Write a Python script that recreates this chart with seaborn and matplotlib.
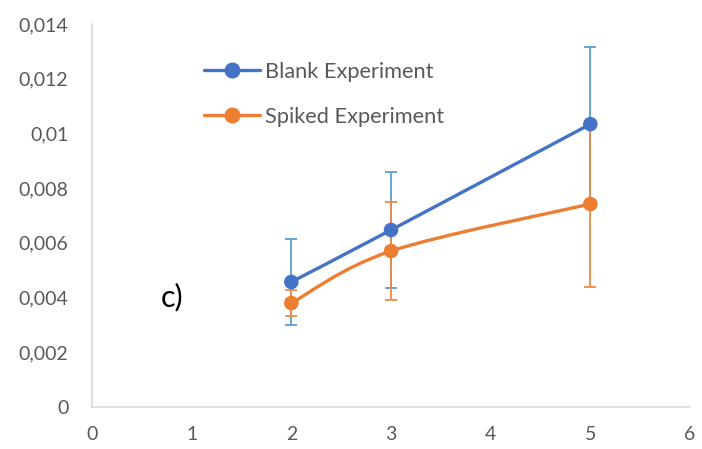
import numpy as np
import pandas as pd
import seaborn as sns
import matplotlib.pyplot as plt
from matplotlib.path import Path
from matplotlib.patches import PathPatch
from matplotlib.lines import Line2D
from matplotlib.ticker import FuncFormatter, MultipleLocator

x_values = [2, 3, 5]
blank_values = [0.00457, 0.00647, 0.01034]
blank_errors = [0.00158, 0.00213, 0.00283]
spiked_values = [0.00380, 0.00570, 0.00742]
spiked_errors = [0.00048, 0.00180, 0.00303]
series_names = ["Blank Experiment", "Spiked Experiment"]

blue = "#4472C4"
orange = "#ED7D31"
blue_err = "#5B9BD5"
orange_err = "#F08A45"

sns.set_theme(style="white")
plt.rcParams['font.family'] = ['Lato', 'DejaVu Sans']

df = pd.DataFrame({
    "x": x_values + x_values,
    "y": blank_values + spiked_values,
    "series": [series_names[0]] * 3 + [series_names[1]] * 3,
})

fig = plt.figure(figsize=(7.02, 4.49), dpi=100)
ax = fig.add_axes([92 / 702, 42 / 449, 598 / 702, 383 / 449])


def smooth_path(xs, ys, t=1 / 6):
    pts = np.column_stack([xs, ys]).astype(float)
    n = len(pts)
    verts = [pts[0]]
    codes = [Path.MOVETO]
    for i in range(n - 1):
        p0 = pts[max(i - 1, 0)]
        p1 = pts[i]
        p2 = pts[i + 1]
        p3 = pts[min(i + 2, n - 1)]
        c1 = p1 + (p2 - p0) * t
        c2 = p2 - (p3 - p1) * t
        verts += [c1, c2, p2]
        codes += [Path.CURVE4] * 3
    return Path(verts, codes)


# error bars
ax.errorbar(x_values, blank_values, yerr=blank_errors, fmt="none",
            ecolor=blue_err, elinewidth=1.3, capsize=4.5, capthick=1.3, zorder=1)
ax.errorbar(x_values, spiked_values, yerr=spiked_errors, fmt="none",
            ecolor=orange_err, elinewidth=1.3, capsize=4.5, capthick=1.3, zorder=1)

# smoothed lines
for vals, col in [(blank_values, blue), (spiked_values, orange)]:
    ax.add_patch(PathPatch(smooth_path(x_values, vals), facecolor="none",
                           edgecolor=col, lw=2.4, capstyle="round", zorder=2))

# markers
sns.scatterplot(data=df, x="x", y="y", hue="series",
                palette={series_names[0]: blue, series_names[1]: orange},
                s=110, edgecolor="none", legend=False, ax=ax, zorder=3)

ax.set_xlim(0, 6)
ax.set_ylim(0, 0.014)
ax.xaxis.set_major_locator(MultipleLocator(1))
ax.yaxis.set_major_locator(MultipleLocator(0.002))
ax.yaxis.set_major_formatter(FuncFormatter(lambda v, p: f"{v:g}".replace(".", ",")))
ax.set_xlabel("")
ax.set_ylabel("")
ax.tick_params(length=0, colors="#595959", labelsize=14)
ax.tick_params(axis="y", pad=17)
ax.tick_params(axis="x", pad=14)
for s in ["top", "right"]:
    ax.spines[s].set_visible(False)
for s in ["left", "bottom"]:
    ax.spines[s].set_color("#D9D9D9")
    ax.spines[s].set_linewidth(1.2)

ax.text(0.69, 0.0040, "c)", fontsize=22, color="black", va="center", ha="left")

handles = [Line2D([], [], color=blue, lw=2.4, marker="o", ms=10.5),
           Line2D([], [], color=orange, lw=2.4, marker="o", ms=10.5)]
leg = ax.legend(handles, series_names, loc="upper left",
                bbox_to_anchor=(204 / 702, 1 - 62 / 449), bbox_transform=fig.transFigure,
                frameon=False, fontsize=15.7, handlelength=2.55, handletextpad=0.25,
                labelspacing=1.15, borderpad=0, borderaxespad=0)
for t in leg.get_texts():
    t.set_color("#595959")

fig.savefig("out.png", dpi=100)
